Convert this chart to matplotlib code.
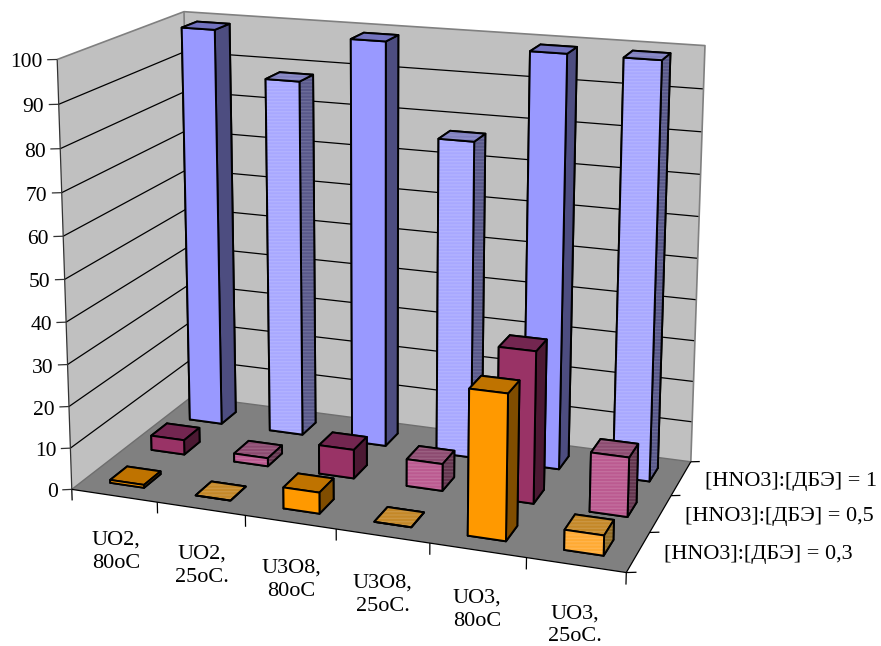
import numpy as np
import matplotlib
matplotlib.use("Agg")
import matplotlib.pyplot as plt
from mpl_toolkits.mplot3d import Axes3D, proj3d
from mpl_toolkits.mplot3d.art3d import Poly3DCollection, Line3DCollection

plt.rcParams['font.family'] = ['Liberation Serif', 'DejaVu Serif']
plt.rcParams['hatch.linewidth'] = 0.9

categories = ["UO2,\n80oC", "UO2,\n25oC.", "U3O8,\n80oC", "U3O8,\n25oC.", "UO3,\n80oC", "UO3,\n25oC."]
series_labels = ["[HNO3]:[ДБЭ] = 0,3", "[HNO3]:[ДБЭ] = 0,5", "[HNO3]:[ДБЭ] = 1"]
ratio_03 = [0.7, 0, 5, 0, 33.6, 4.6]
ratio_05 = [3.6, 2, 7, 6.5, 36, 14]
ratio_1 = [99, 88, 99, 77, 99, 99]
z_ticks = list(range(0, 101, 10))

# front, top, right shades of the plain and the striped columns
plain_shades = [("#FF9900", "#BF7300", "#804D00"),
                ("#993366", "#732650", "#4C1933"),
                ("#9999FF", "#7373BF", "#4D4D80")]
striped_shades = [("#FFAA33", "#C48828", "#8F6A24"),
                  ("#BB5A90", "#8C4A70", "#63344E"),
                  ("#A8A8FF", "#8080C0", "#58588A")]

# box corners / axis ticks (data) and where they land on the canvas (pixels)
anchors_3d = [(0, 0, 0), (6, 0, 0), (6, 3, 0), (0, 3, 0), (0, 0, 100), (0, 3, 100), (6, 3, 100),
              (0, 0, 50), (1, 0, 0), (2, 0, 0), (6, 2, 0), (6, 1, 0)]
anchors_px = [(72, 488), (626, 573), (690, 460), (192, 398), (57, 60), (184, 11), (705, 46),
              (65, 279), (157, 502), (245, 516), (672, 496), (650, 533)]


def fit_camera(pts3d, pts2d):
    # direct linear transform, last coefficient fixed at 1
    A, b = [], []
    for (x, y, z), (u, v) in zip(pts3d, pts2d):
        A.append([x, y, z, 1, 0, 0, 0, 0, -u*x, -u*y, -u*z])
        b.append(u)
        A.append([0, 0, 0, 0, x, y, z, 1, -v*x, -v*y, -v*z])
        b.append(v)
    p = np.linalg.lstsq(np.array(A, float), np.array(b, float), rcond=None)[0]
    w_row = [p[8], p[9], p[10], 1.0]
    depth_row = [p[8], p[9], p[10], 0.5]  # bigger means further away
    return np.array([p[:4], p[4:8], depth_row, w_row])


M = fit_camera(anchors_3d, anchors_px)


def add_lines(segments, color, lw, zorder):
    ax.add_collection3d(Line3DCollection(segments, colors=color, linewidths=lw, zorder=zorder), autolim=False)


def add_label(x, y, z, s, **kw):
    # placed in 2d at the projected position
    u, v, _ = proj3d.proj_transform(x, y, z, M)
    ax.text2D(u, v, s, transform=ax.transData, color="black", **kw)


W, H = 881, 646
fig = plt.figure(figsize=(W/100, H/100), dpi=100)
# Axes3D always keeps a square box, so make it as wide as the figure
ax = fig.add_axes([0, (H-W)/2/H, 1, W/H], projection='3d', computed_zorder=False)
ax.set_axis_off()
ax.patch.set_visible(False)

# walls and floor
wall_c = "#C0C0C0"
floor_c = "#808080"
ax.add_collection3d(Poly3DCollection([[(0, 0, 0), (0, 3, 0), (0, 3, 100), (0, 0, 100)],
                                      [(0, 3, 0), (6, 3, 0), (6, 3, 100), (0, 3, 100)]],
                                     facecolors=wall_c, edgecolors="none", zorder=0), autolim=False)
ax.add_collection3d(Poly3DCollection([[(0, 0, 0), (6, 0, 0), (6, 3, 0), (0, 3, 0)]],
                                     facecolors=floor_c, edgecolors="none", zorder=0), autolim=False)

grid = []
for z in z_ticks[1:-1]:
    grid.append([(0, 0, z), (0, 3, z), (6, 3, z)])
add_lines(grid, "black", 0.9, 1)
add_lines([[(0, 0, 100), (0, 3, 100), (6, 3, 100), (6, 3, 0)],
           [(0, 3, 0), (0, 3, 100)]], "#808080", 1.2, 1)
add_lines([[(0, 0, 0), (0, 3, 0), (6, 3, 0)]], "#6E6E6E", 1.0, 1)

# columns, back row first so the nearer ones cover them
rows = [ratio_03, ratio_05, ratio_1]
order = 2
for r in [2, 1, 0]:
    for i, val in enumerate(rows[r]):
        shades = striped_shades[r] if i % 2 else plain_shades[r]
        front, top, right = shades
        col = ax.bar3d([i+0.3], [r+0.3], [0], 0.4, 0.4, val, shade=False,
                       color=[top, top, front, front, right, right],
                       edgecolor="black", linewidth=1.4, zorder=order)
        if i % 2:
            col.set_hatch("-----")
            col.update_scalarmappable()
            col._hatch_color = (1, 1, 1, 0.13)
        order += 1

# axis lines, ticks and labels
tk = order
add_lines([[(0, 0, 0), (0, 0, 100)]], "#333333", 0.9, tk)
add_lines([[(0, 0, 0), (6, 0, 0), (6, 3, 0)]], "black", 0.9, tk)
add_lines([[(0, 0, z), (-0.089, -0.045, z)] for z in z_ticks], "#333333", 0.9, tk)
add_lines([[(i, 0, 0), (i, 0, -2.7)] for i in range(len(categories)+1)], "black", 0.9, tk)
add_lines([[(6, r, 0), (6.091, r+0.04, 0)] for r in range(4)], "black", 0.9, tk)

for z in z_ticks:
    add_label(-0.13, -0.065, z-0.7, str(z), ha="right", va="center", fontsize=15.5)
for i, name in enumerate(categories):
    add_label(i+0.5, 0, -13.7, name, ha="center", va="center", fontsize=16, linespacing=1.3)
for r, name in enumerate(series_labels):
    add_label(6.238, r+0.5+0.103, -0.8, name, ha="left", va="center", fontsize=16)

# pixel coordinates on the 2d side, camera fitted above
ax.get_proj = lambda: M
ax.viewLim.intervalx = (0, W)
ax.viewLim.intervaly = (H + (W-H)/2, -(W-H)/2)

fig.savefig("out.png", dpi=100)
